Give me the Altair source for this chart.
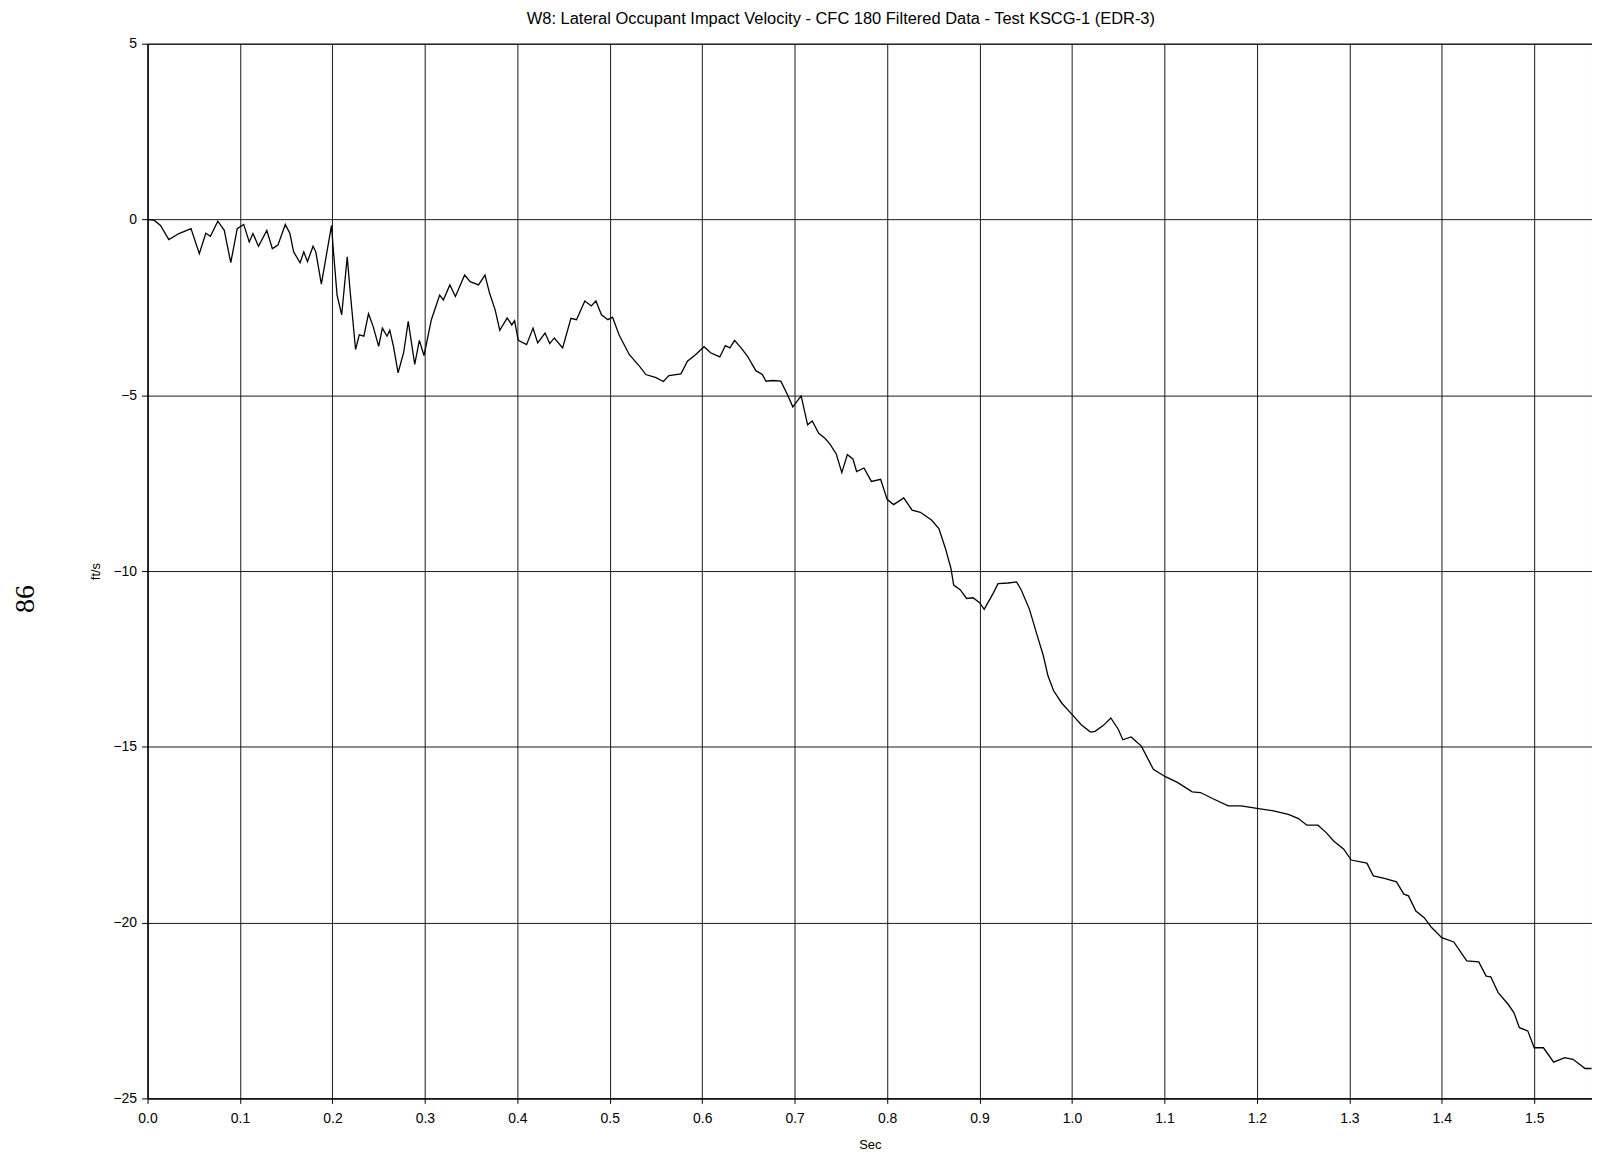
import altair as alt
import pandas as pd

time_s = [
    0.000, 0.007, 0.014, 0.023, 0.034, 0.047, 0.056, 0.063, 0.068, 0.076,
    0.083, 0.090, 0.097, 0.104, 0.110, 0.114, 0.120, 0.129, 0.135, 0.141,
    0.149, 0.154, 0.158, 0.165, 0.169, 0.173, 0.179, 0.182, 0.188, 0.199,
    0.201, 0.205, 0.210, 0.216, 0.219, 0.225, 0.229, 0.234, 0.239, 0.244,
    0.250, 0.254, 0.259, 0.262, 0.266, 0.271, 0.277, 0.282, 0.289, 0.294,
    0.299, 0.307, 0.316, 0.320, 0.327, 0.333, 0.343, 0.349, 0.358, 0.365,
    0.370, 0.376, 0.381, 0.389, 0.394, 0.397, 0.401, 0.410, 0.417, 0.422,
    0.430, 0.435, 0.440, 0.449, 0.458, 0.464, 0.473, 0.480, 0.485, 0.491,
    0.498, 0.503, 0.510, 0.521, 0.532, 0.539, 0.550, 0.558, 0.564, 0.577,
    0.584, 0.593, 0.602, 0.609, 0.619, 0.625, 0.630, 0.635, 0.642, 0.649,
    0.658, 0.665, 0.669, 0.676, 0.685, 0.692, 0.698, 0.707, 0.714, 0.719,
    0.726, 0.733, 0.738, 0.745, 0.751, 0.757, 0.763, 0.767, 0.775, 0.783,
    0.793, 0.800, 0.807, 0.818, 0.827, 0.836, 0.848, 0.856, 0.863, 0.869,
    0.872, 0.879, 0.886, 0.893, 0.900, 0.905, 0.908, 0.915, 0.920, 0.931,
    0.940, 0.945, 0.954, 0.962, 0.969, 0.974, 0.980, 0.989, 0.999, 1.010,
    1.020, 1.025, 1.034, 1.042, 1.050, 1.055, 1.064, 1.075, 1.088, 1.101,
    1.114, 1.130, 1.139, 1.152, 1.169, 1.183, 1.200, 1.218, 1.234, 1.245,
    1.254, 1.266, 1.275, 1.283, 1.294, 1.302, 1.319, 1.326, 1.338, 1.351,
    1.359, 1.364, 1.372, 1.381, 1.389, 1.400, 1.413, 1.427, 1.440, 1.448,
    1.453, 1.461, 1.472, 1.478, 1.484, 1.493, 1.500, 1.510, 1.521, 1.533,
    1.542, 1.555, 1.562,
]

velocity_fts = [
    0.00, -0.02, -0.17, -0.57, -0.40, -0.26, -0.97, -0.39, -0.48, -0.05,
    -0.31, -1.23, -0.26, -0.14, -0.64, -0.40, -0.76, -0.31, -0.83, -0.73,
    -0.14, -0.40, -0.92, -1.23, -0.92, -1.20, -0.76, -0.92, -1.84, -0.17,
    -0.88, -2.15, -2.71, -1.06, -2.00, -3.70, -3.28, -3.32, -2.68, -3.04,
    -3.61, -3.09, -3.32, -3.15, -3.61, -4.36, -3.79, -2.90, -4.12, -3.44,
    -3.87, -2.85, -2.15, -2.29, -1.86, -2.19, -1.58, -1.77, -1.86, -1.58,
    -2.10, -2.57, -3.15, -2.80, -3.00, -2.88, -3.44, -3.56, -3.09, -3.51,
    -3.23, -3.53, -3.37, -3.65, -2.81, -2.85, -2.32, -2.46, -2.32, -2.71,
    -2.85, -2.78, -3.28, -3.84, -4.17, -4.41, -4.50, -4.61, -4.44, -4.39,
    -4.03, -3.84, -3.62, -3.79, -3.91, -3.59, -3.65, -3.44, -3.65, -3.89,
    -4.30, -4.41, -4.60, -4.58, -4.60, -4.97, -5.33, -5.02, -5.84, -5.73,
    -6.08, -6.23, -6.38, -6.67, -7.20, -6.69, -6.81, -7.17, -7.07, -7.45,
    -7.39, -7.96, -8.11, -7.92, -8.27, -8.33, -8.55, -8.79, -9.35, -9.92,
    -10.40, -10.53, -10.78, -10.76, -10.90, -11.09, -10.95, -10.62, -10.36, -10.34,
    -10.31, -10.53, -11.09, -11.80, -12.41, -12.98, -13.40, -13.76, -14.05, -14.37,
    -14.58, -14.56, -14.39, -14.18, -14.50, -14.80, -14.72, -14.98, -15.64, -15.85,
    -16.01, -16.28, -16.30, -16.47, -16.68, -16.68, -16.75, -16.82, -16.92, -17.04,
    -17.23, -17.23, -17.44, -17.68, -17.91, -18.22, -18.31, -18.67, -18.74, -18.84,
    -19.19, -19.24, -19.67, -19.86, -20.14, -20.43, -20.55, -21.09, -21.12, -21.52,
    -21.54, -21.99, -22.33, -22.56, -22.99, -23.08, -23.56, -23.56, -23.97, -23.84,
    -23.89, -24.15, -24.15,
]

x_ticks = [0.0, 0.1, 0.2, 0.3, 0.4, 0.5, 0.6, 0.7, 0.8, 0.9, 1.0, 1.1, 1.2, 1.3, 1.4, 1.5]
y_ticks = [5, 0, -5, -10, -15, -20, -25]
title_text = "W8: Lateral Occupant Impact Velocity - CFC 180 Filtered Data - Test KSCG-1 (EDR-3)"
page_number = ["86"]

df = pd.DataFrame({"t": time_s, "v": velocity_fts})

FONT = "Liberation Sans"

line = alt.Chart(df).mark_line(color="black", strokeWidth=1.3).encode(
    x=alt.X(
        "t:Q",
        title="Sec",
        scale=alt.Scale(domain=[0, 1.5625], nice=False, zero=False),
        axis=alt.Axis(
            values=x_ticks, format=".1f", tickSize=5, labelPadding=8,
            labelFlush=False, titlePadding=13, grid=True,
        ),
    ),
    y=alt.Y(
        "v:Q",
        title="ft/s",
        scale=alt.Scale(domain=[-25, 5], nice=False),
        axis=alt.Axis(
            values=y_ticks, format="d", tickSize=6, labelPadding=5,
            labelFlush=False, titlePadding=10, grid=True,
        ),
    ),
)

page = alt.Chart(pd.DataFrame({"p": page_number})).mark_text(
    font="Liberation Serif", fontSize=28, angle=270, color="black",
    align="center", baseline="middle",
).encode(
    text="p:N",
    x=alt.value(-122),
    y=alt.value(557),
)

chart = alt.layer(line, page).properties(
    width=1449,
    height=1058,
    background="white",
    title=alt.TitleParams(
        text=title_text, font=FONT, fontSize=16.5, fontWeight="normal",
        color="black", anchor="middle", dx=-29, offset=9,
    ),
    autosize=alt.AutoSizeParams(type="none"),
    padding={"left": 140, "top": 34, "right": 0, "bottom": 62},
).configure_view(
    stroke="black", strokeWidth=1,
).configure_axis(
    gridColor="#1a1a1a", gridWidth=1, gridOpacity=1,
    domainColor="black", tickColor="black",
    labelFont=FONT, labelFontSize=14, labelColor="black",
    titleFont=FONT, titleFontSize=13, titleFontWeight="normal", titleColor="black",
)

chart.save("out.html", embed_options={"renderer": "svg", "actions": False})
